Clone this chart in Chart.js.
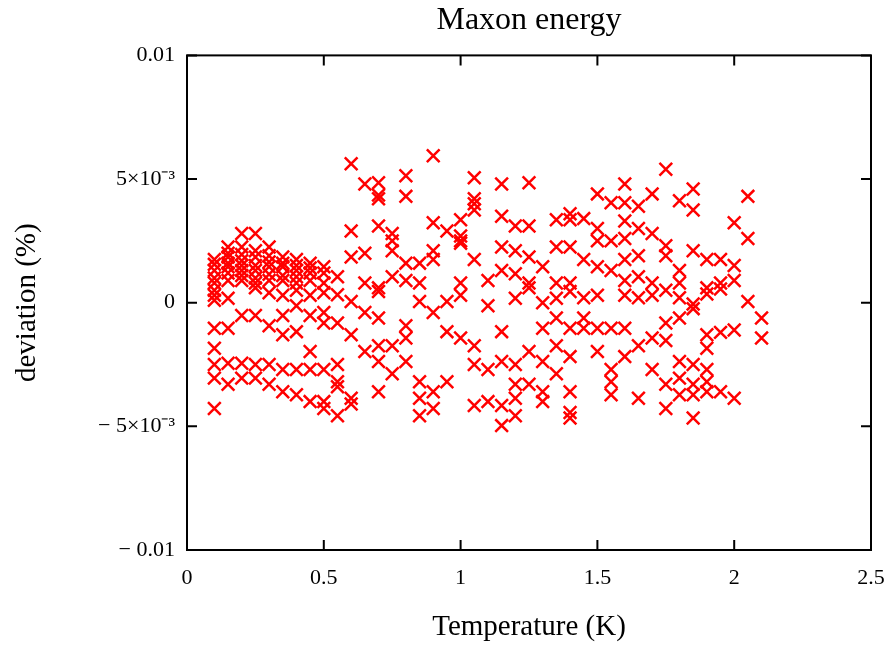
<!DOCTYPE html>
<html>
<head>
<meta charset="utf-8">
<script src="https://cdn.jsdelivr.net/npm/chart.js@4.4.1/dist/chart.umd.min.js"></script>
<style>
  html, body { margin: 0; padding: 0; background: #fff; }
  #wrap { width: 893px; height: 646px; }
</style>
</head>
<body>
<div id="wrap"><canvas id="maxon"></canvas></div>
<script>
// temperatures (K) at which deviations were measured
var tempColumns = [0.1, 0.15, 0.2, 0.25, 0.3, 0.35, 0.4, 0.45, 0.5, 0.55,
                   0.6, 0.65, 0.7, 0.75, 0.8, 0.85, 0.9, 0.95, 1.0, 1.05,
                   1.1, 1.15, 1.2, 1.25, 1.3, 1.35, 1.4, 1.45, 1.5, 1.55,
                   1.6, 1.65, 1.7, 1.75, 1.8, 1.85, 1.9, 1.95, 2.0, 2.05, 2.1];

// deviation values read per temperature, in units of 1e-3 (%)
var devByColumn = [
  [0.3, 0.1, 0.5, 0.8, 1.0, 1.3, 1.55, 1.75, -1.03, -1.84, -2.5, -3.05, -4.28],
  [2.25, 2.0, 1.85, 1.6, 1.45, 1.2, 0.9, 0.18, -1.03, -2.45, -3.3],
  [2.8, 2.25, 1.95, 1.7, 1.5, 1.3, 1.1, 0.9, -0.52, -2.45, -3.05],
  [2.8, 2.1, 1.85, 1.5, 1.3, 1.0, 0.8, 0.6, -0.52, -2.5, -3.05],
  [2.25, 1.9, 1.65, 1.45, 1.15, 0.9, 0.4, -0.93, -2.5, -3.3],
  [1.85, 1.6, 1.45, 1.1, 0.9, 0.3, -0.52, -1.3, -2.7, -3.6],
  [1.75, 1.5, 1.3, 1.05, 0.8, 0.5, -0.12, -1.17, -2.7, -3.72],
  [1.6, 1.4, 1.2, 0.9, 0.3, -0.52, -1.97, -2.7, -4.0],
  [1.45, 1.2, 0.8, 0.4, -0.4, -0.82, -2.7, -4.0, -4.28],
  [1.05, 0.32, -0.82, -2.5, -3.2, -3.4, -4.57],
  [5.62, 2.9, 1.85, 0.05, -1.3, -3.86, -4.1],
  [4.8, 2.0, 0.8, -0.4, -1.97],
  [4.85, 4.35, 4.2, 3.1, 0.6, 0.45, -0.62, -1.74, -2.38, -3.6],
  [2.8, 2.5, 2.1, 1.05, -1.74, -2.87],
  [5.13, 4.3, 1.6, 0.9, -0.93, -1.43, -2.38],
  [1.6, 0.8, 0.05, -3.2, -3.86, -4.57],
  [5.94, 3.23, 2.1, 1.75, -0.4, -3.6, -4.28],
  [2.9, 0.05, -1.17, -3.2],
  [3.35, 2.7, 2.5, 2.4, 0.8, 0.3, -1.43],
  [5.05, 4.2, 4.0, 3.75, 1.75, -1.74, -2.5, -4.16],
  [0.9, -0.12, -2.7, -4.0],
  [4.8, 3.5, 2.25, 1.3, -1.17, -2.38, -4.16, -4.97],
  [3.1, 2.1, 1.17, 0.18, -2.5, -3.3, -3.86, -4.57],
  [4.85, 3.1, 1.85, 0.8, 0.6, -1.97, -3.3],
  [1.45, 0.0, -1.03, -2.38, -3.6, -4.0],
  [3.35, 2.25, 0.8, 0.18, -0.62, -1.74, -2.87],
  [3.6, 3.35, 2.25, 0.8, 0.45, -1.03, -2.18, -3.6, -4.44, -4.66],
  [3.4, 1.75, 0.2, -0.62, -1.03],
  [4.4, 3.0, 2.5, 1.45, 0.3, -1.03, -1.97],
  [4.04, 2.5, 1.3, -1.03, -2.7, -3.2, -3.72],
  [4.8, 4.04, 3.3, 2.6, 1.75, 0.9, 0.3, -1.03, -2.18],
  [3.9, 3.0, 1.9, 1.05, 0.2, -1.74, -3.86],
  [4.4, 2.8, 0.8, 0.3, -1.43, -2.7],
  [5.4, 2.3, 1.9, 0.5, -0.82, -1.53, -3.3, -4.28],
  [4.12, 1.3, 0.8, 0.2, -0.62, -2.38, -3.05, -3.72],
  [4.6, 3.75, 2.1, -0.05, -0.24, -2.5, -3.3, -3.72, -4.66],
  [1.75, 0.6, 0.35, -1.3, -1.84, -2.7, -3.2, -3.6],
  [1.75, 0.8, 0.55, -1.2, -3.6],
  [3.23, 1.5, 0.9, -1.1, -3.86],
  [4.3, 2.6, 0.05],
  [-0.62, -1.43]
];

var xTickLabels = ['0', '0.5', '1', '1.5', '2', '2.5'];
var yTickLabels = {'10': '0.01', '5': '5\u00d710\u207b\u00b3', '0': '0',
                   '-5': '\u2212 5\u00d710\u207b\u00b3', '-10': '\u2212 0.01'};

var points = [];
tempColumns.forEach(function(t, i) {
  devByColumn[i].forEach(function(d) {
    points.push({x: t, y: d * 1e-3});
  });
});

var serif = "'Liberation Serif', 'Times New Roman', serif";

// frame on all four sides with inward ticks, like the original plot
var framePlugin = {
  id: 'frame',
  afterDatasetsDraw: function(chart) {
    var a = chart.chartArea, c = chart.ctx;
    var xs = chart.scales.x, ys = chart.scales.y;
    var len = 10;
    c.save();
    c.strokeStyle = '#000';
    c.lineWidth = 2;
    c.strokeRect(a.left, a.top, a.right - a.left, a.bottom - a.top);
    c.beginPath();
    xs.ticks.forEach(function(t) {
      var px = xs.getPixelForValue(t.value);
      c.moveTo(px, a.bottom); c.lineTo(px, a.bottom - len);
      c.moveTo(px, a.top); c.lineTo(px, a.top + len);
    });
    ys.ticks.forEach(function(t) {
      var py = ys.getPixelForValue(t.value);
      c.moveTo(a.left, py); c.lineTo(a.left + len, py);
      c.moveTo(a.right, py); c.lineTo(a.right - len, py);
    });
    c.stroke();
    c.restore();
  }
};

new Chart(document.getElementById('maxon'), {
  type: 'scatter',
  data: {
    datasets: [{
      label: 'deviation',
      data: points,
      pointStyle: 'crossRot',
      radius: 9,
      hoverRadius: 9,
      borderColor: '#ff0000',
      backgroundColor: '#ff0000',
      borderWidth: 2.5
    }]
  },
  options: {
    responsive: true,
    maintainAspectRatio: false,
    animation: false,
    layout: { padding: { left: 0, right: 22, top: 0, bottom: 0 } },
    plugins: {
      legend: { display: false },
      tooltip: { enabled: false },
      title: {
        display: true,
        fullSize: false,
        text: 'Maxon energy',
        color: '#000',
        font: { family: serif, size: 32, weight: 'normal' },
        padding: { top: 1, bottom: 16 }
      }
    },
    scales: {
      x: {
        type: 'linear',
        min: 0, max: 2.5,
        afterFit: function(s) { s.height = 96; },
        grid: { display: false },
        border: { display: false },
        ticks: {
          stepSize: 0.5,
          color: '#000',
          padding: 7,
          maxRotation: 0,
          font: { family: serif, size: 22 },
          callback: function(v, i) { return xTickLabels[i]; }
        },
        title: {
          display: true,
          text: 'Temperature (K)',
          color: '#000',
          font: { family: serif, size: 29 },
          padding: { top: 0, bottom: 1 }
        }
      },
      y: {
        type: 'linear',
        min: -0.01, max: 0.01,
        afterFit: function(s) { s.width = 187; },
        grid: { display: false },
        border: { display: false },
        ticks: {
          stepSize: 0.005,
          color: '#000',
          padding: 4,
          font: { family: serif, size: 22 },
          callback: function(v) { return yTickLabels[String(Math.round(v * 1000))]; }
        },
        title: {
          display: true,
          text: 'deviation (%)',
          color: '#000',
          font: { family: serif, size: 29 },
          padding: { top: 10, bottom: 0 }
        }
      }
    }
  },
  plugins: [framePlugin]
});
</script>
</body>
</html>
